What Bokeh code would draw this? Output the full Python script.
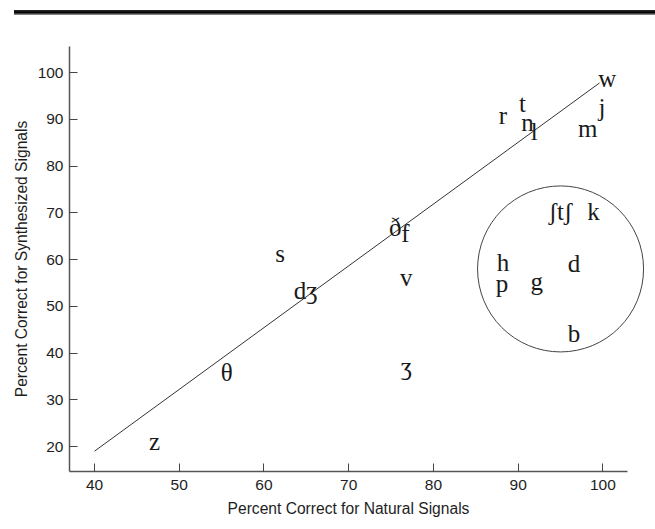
import numpy as np
from bokeh.plotting import figure
from bokeh.models import ColumnDataSource, Div, FixedTicker, Range1d
from bokeh.layouts import column
from bokeh.embed import file_html
from bokeh.resources import INLINE
from bokeh.core.properties import value

# ---- data ----
labels = ["w", "j", "t", "r", "n", "l", "m", "ʃtʃ", "k", "ð", "f", "h", "d", "p",
          "g", "s", "v", "dʒ", "b", "θ", "ʒ", "z"]
natural = [100.5, 99.9, 90.5, 88.2, 91.1, 91.9, 98.2, 95.0, 98.9, 75.5, 76.7, 88.2,
           96.6, 88.1, 92.2, 61.9, 76.8, 64.9, 96.6, 55.6, 76.8, 47.1]
synthesized = [98.3, 92.2, 92.9, 90.4, 89.0, 86.9, 87.6, 69.8, 69.8, 66.5, 65.1, 58.9,
               58.7, 54.4, 54.8, 60.8, 55.8, 53.0, 43.7, 35.5, 36.6, 20.6]

fit_x = [40, 99.6]
fit_y = [19, 97.8]

group_x = [95.0]
group_y = [58.0]

x_ticks = [40, 50, 60, 70, 80, 90, 100]
y_ticks = [20, 30, 40, 50, 60, 70, 80, 90, 100]

# ---- layout ----
X0, X1 = 37.05, 102.9
Y0, Y1 = 14.65, 105.6
FW, FH = 558, 425
BL, BT = 69, 31
W, H = 650, 510

p = figure(width=W, height=H, output_backend="svg", toolbar_location=None,
           x_range=Range1d(X0, X1), y_range=Range1d(Y0, Y1),
           min_border_left=BL, min_border_top=BT,
           min_border_right=W - BL - FW, min_border_bottom=H - BT - FH)
p.outline_line_color = None
p.grid.visible = False
p.background_fill_color = "white"

for ax in (p.xaxis[0], p.yaxis[0]):
    ax.axis_line_color = "#555555"
    ax.axis_line_width = 1.5
    ax.major_tick_line_color = "#444444"
    ax.major_tick_in = 8
    ax.major_tick_out = 0
    ax.minor_tick_line_color = None
    ax.major_label_text_font = "Liberation Sans"
    ax.major_label_text_font_size = "15.5px"
    ax.major_label_text_color = "#1e1e1e"
    ax.axis_label_text_font = "Liberation Sans"
    ax.axis_label_text_font_size = "15.6px"
    ax.axis_label_text_font_style = "normal"
    ax.axis_label_text_color = "#1e1e1e"

p.xaxis[0].ticker = FixedTicker(ticks=x_ticks)
p.yaxis[0].ticker = FixedTicker(ticks=y_ticks)
p.xaxis[0].axis_label = "Percent Correct for Natural Signals"
p.yaxis[0].axis_label = "Percent Correct for Synthesized Signals"
p.xaxis[0].major_label_standoff = 8
p.yaxis[0].major_label_standoff = 6
p.xaxis[0].axis_label_standoff = 7
p.yaxis[0].axis_label_standoff = 5

p.line(fit_x, fit_y, line_color="#333333", line_width=1)

src = ColumnDataSource(dict(x=natural, y=synthesized, t=labels))
p.text(x="x", y="y", text="t", source=src, text_font=value("Liberation Serif"),
       text_font_size="25px", text_align="center", text_baseline="middle",
       y_offset=-2, text_color="#1a1a1a")

# circle around the cluster; drawn at annotation level so it may pass the frame edge
r_px = 83
circ = p.scatter(group_x, group_y, marker="circle", size=2 * r_px,
                 fill_color=None, line_color="#444444", line_width=1)
circ.level = "annotation"

bar = Div(text="", width=641, height=5, margin=(10, 0, 0, 14),
          styles={"background": "linear-gradient(to bottom, #2a2a2a 0%, #000000 55%, #6a6a6a 80%, #9a9a9a 100%)"})

layout = column(bar, p, spacing=0)

open("out.html", "w").write(file_html(layout, INLINE))
